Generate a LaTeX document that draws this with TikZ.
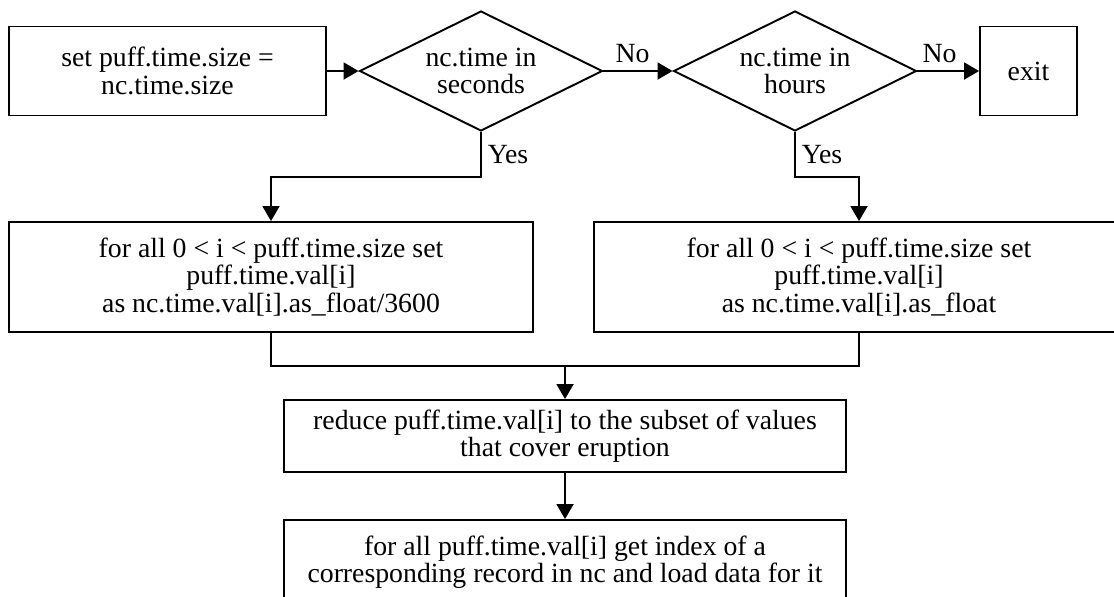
\documentclass[tikz,border=0pt]{standalone}
\usepackage{fontspec}
\setmainfont{Liberation Serif}
\usetikzlibrary{positioning,arrows.meta,shapes.geometric}

\begin{document}
\begin{tikzpicture}[x=0.02cm, y=-0.02cm,
    every node/.style={font=\fontsize{15.8}{15.5}\selectfont},
    box/.style={draw, line width=1.1pt, align=center, inner sep=0pt},
    decide/.style={diamond, aspect=2, draw, line width=1.1pt, align=center, inner sep=0pt,
        minimum width=4.86cm, minimum height=2.4cm},
    flow/.style={line width=1.1pt, -{Triangle[length=0.3cm, width=0.34cm]}},
    link/.style={line width=1.1pt}]
    \useasboundingbox (0,0) rectangle (1114,596);
    \clip (0,0) rectangle (1114,596);

    % Top row: set size, two checks, exit
    \node[box, minimum width=6.34cm, minimum height=1.78cm] (setsize) at (167.5,71) {set puff.time.size =\\nc.time.size};
    \node[decide] (insec) at (481,71) {nc.time in\\seconds};
    \node[decide] (inhrs) at (795,71) {nc.time in\\hours};
    \node[box, minimum width=1.94cm, minimum height=1.78cm] (exit) at (1028.5,71) {exit};

    \draw[flow] (setsize) -- (insec);
    \draw[flow] (insec) -- node[above, inner sep=4pt, pos=0.42] (no1) {No} (inhrs);
    \draw[flow] (inhrs) -- node[above, inner sep=4pt, pos=0.36] (no2) {No} (exit);

    % Conversion boxes
    \node[box, minimum width=10.48cm, minimum height=2.2cm] (convsec) at (271,277) {for all 0 < i < puff.time.size set\\puff.time.val[i]\\as nc.time.val[i].as\_float/3600};
    \node[box, minimum width=10.6cm, minimum height=2.2cm] (convhrs) at (859,277) {for all 0 < i < puff.time.size set\\puff.time.val[i]\\as nc.time.val[i].as\_float};

    \draw[flow] (insec.south) -- node[right] (yes1) {Yes} ++(0,45) -| (convsec.north);
    \draw[flow] (inhrs.south) -- node[right] (yes2) {Yes} ++(0,45) -| (convhrs.north);

    % Merge and final steps
    \coordinate (merge) at (565,366);
    \node[box, minimum width=11.24cm, minimum height=1.44cm] (reduce) at (565,436) {reduce puff.time.val[i] to the subset of values\\that cover eruption};
    \node[box, minimum width=11.24cm, minimum height=1.68cm] (load) at (565,562) {for all puff.time.val[i] get index of a\\corresponding record in nc and load data for it};

    \draw[link] (convsec.south) |- (merge);
    \draw[link] (convhrs.south) |- (merge);
    \draw[flow] (merge) -- (reduce);
    \draw[flow] (reduce) -- (load);
\end{tikzpicture}
\end{document}
